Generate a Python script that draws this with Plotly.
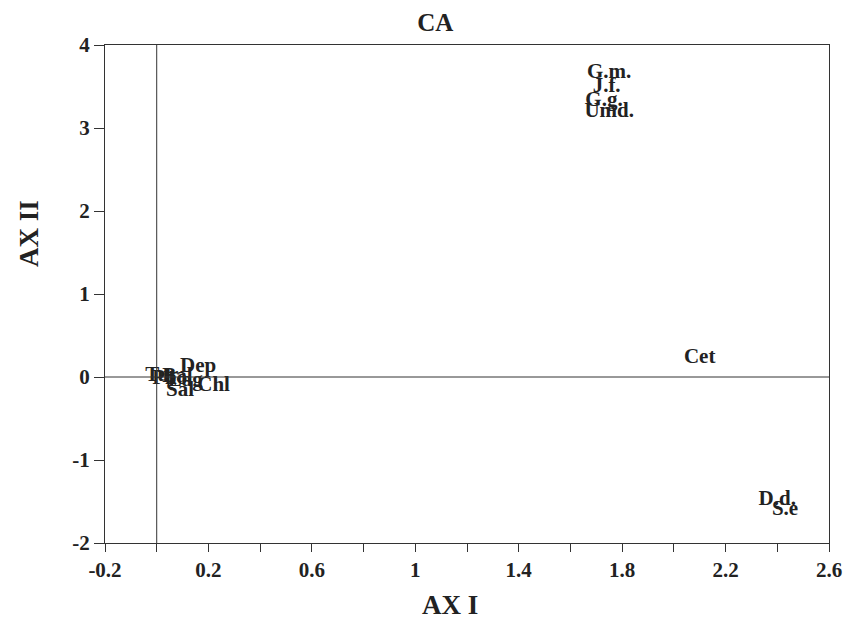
import plotly.graph_objects as go

# Data
labels = ["G.m.", "J.f.", "G.g.", "Umd.", "Cet", "D.d.", "S.e",
          "Dep", "Chl", "Sal", "Tur", "Pho", "Bal", "Lag"]
ax1 = [1.75, 1.74, 1.73, 1.75, 2.10, 2.40, 2.43,
       0.16, 0.22, 0.09, 0.02, 0.05, 0.08, 0.11]
ax2 = [3.67, 3.50, 3.33, 3.20, 0.23, -1.48, -1.60,
       0.12, -0.11, -0.16, 0.02, -0.02, 0.0, -0.05]

x_ticks = [-0.2, 0.2, 0.6, 1.0, 1.4, 1.8, 2.2, 2.6]
x_tick_labels = ["-0.2", "0.2", "0.6", "1", "1.4", "1.8", "2.2", "2.6"]
y_ticks = [-2, -1, 0, 1, 2, 3, 4]

font_family = "Liberation Serif, Times New Roman, serif"

fig = go.Figure()
fig.add_trace(go.Scatter(
    x=ax1, y=ax2, mode="text", text=labels,
    textposition="middle center",
    textfont=dict(family=font_family, size=21, color="#222", weight="bold"),
    showlegend=False, hoverinfo="text"))

# zero lines
fig.add_shape(type="line", xref="x", yref="paper", x0=0, x1=0, y0=0, y1=1,
              line=dict(color="#333", width=1))
fig.add_shape(type="line", xref="paper", yref="y", x0=0, x1=1, y0=0, y1=0,
              line=dict(color="#333", width=1))

fig.update_layout(
    width=846, height=612,
    margin=dict(l=97, r=16, t=37, b=77),
    paper_bgcolor="white", plot_bgcolor="white",
    title=dict(text="<b>CA</b>", x=0.505, xanchor="center", y=0.977, yanchor="middle",
               font=dict(family=font_family, size=25, color="#222")),
    font=dict(family=font_family, color="#222"),
    xaxis=dict(range=[-0.2, 2.6], tickmode="array", tickvals=x_ticks,
               ticktext=["<b>%s</b>" % t for t in x_tick_labels],
               ticks="outside", ticklen=8, tickcolor="#333",
               minor=dict(ticks="outside", ticklen=8, dtick=0.2, tick0=-0.2, tickcolor="#333"),
               showgrid=False, zeroline=False, showline=True, linecolor="#333",
               mirror=True, tickfont=dict(size=21, family=font_family)),
    yaxis=dict(range=[-2, 4], tickmode="array", tickvals=y_ticks,
               ticktext=["<b>%d</b>" % t for t in y_ticks],
               ticks="outside", ticklen=10, tickcolor="#333",
               showgrid=False, zeroline=False, showline=True, linecolor="#333",
               mirror=True, tickfont=dict(size=21, family=font_family)),
)

fig.add_annotation(text="<b>AX I</b>", xref="paper", yref="paper",
                   x=0.477, y=-0.124, showarrow=False,
                   xanchor="center", yanchor="middle",
                   font=dict(size=27, family=font_family, color="#222"))
fig.add_annotation(text="<b>AX II</b>", xref="paper", yref="paper",
                   x=-0.104, y=0.622, textangle=-90, showarrow=False,
                   xanchor="center", yanchor="middle",
                   font=dict(size=27, family=font_family, color="#222"))

fig.write_html("out.html")
